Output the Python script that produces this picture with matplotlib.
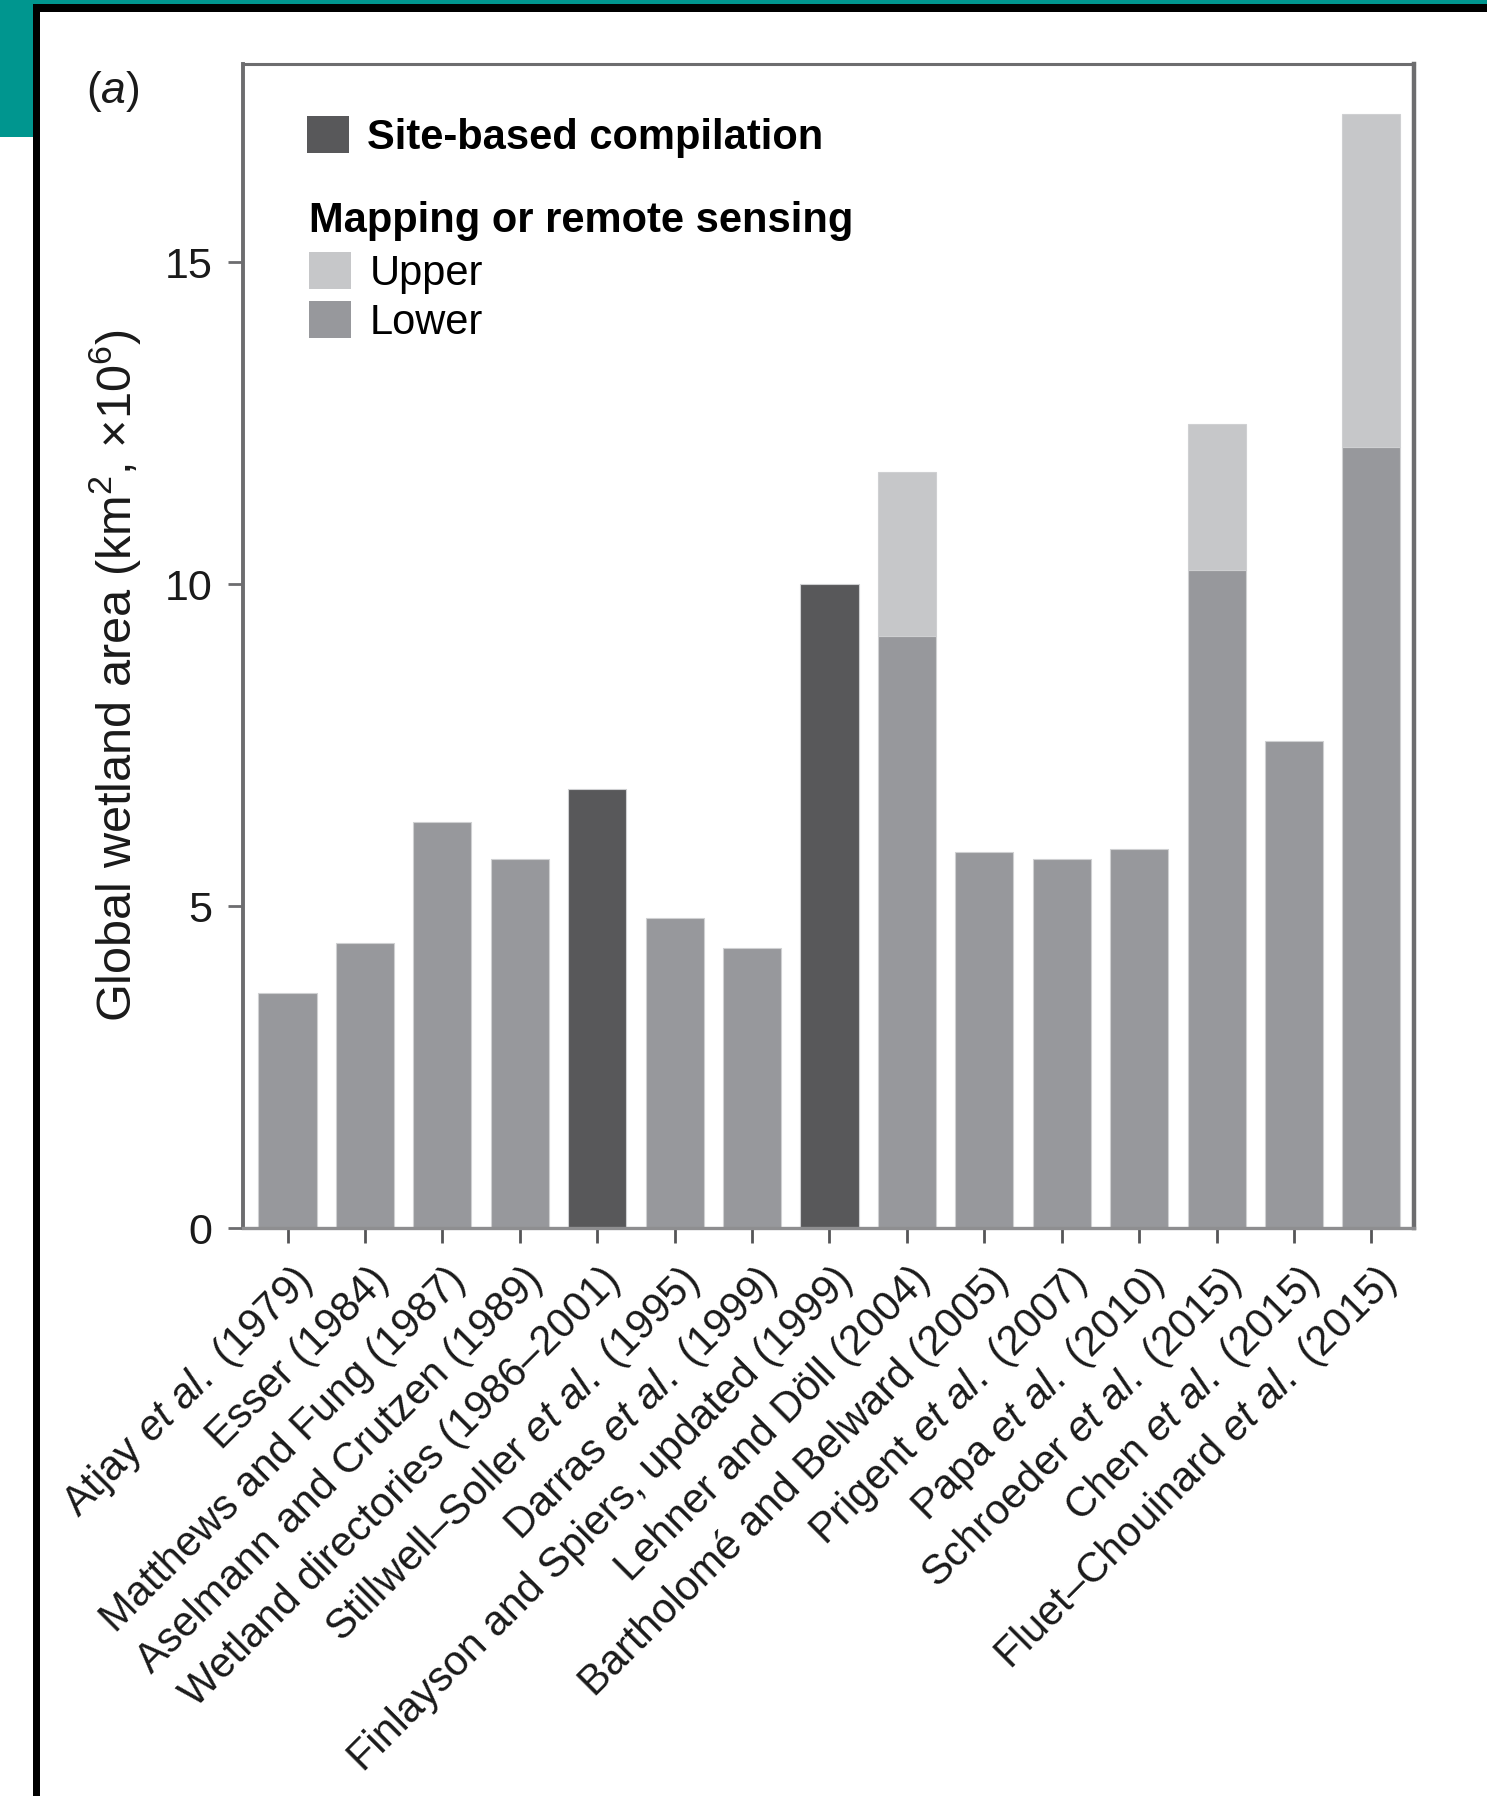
import matplotlib
matplotlib.use("Agg")
import matplotlib.pyplot as plt
from matplotlib.patches import Rectangle, Patch
from matplotlib.transforms import ScaledTranslation
import numpy as np

plt.rcParams['font.family'] = ['Liberation Sans', 'DejaVu Sans']
plt.rcParams['mathtext.fontset'] = 'custom'
plt.rcParams['mathtext.rm'] = 'Liberation Sans'
plt.rcParams['mathtext.it'] = 'Liberation Sans:italic'
plt.rcParams['mathtext.bf'] = 'Liberation Sans:bold'

# ---- data -------------------------------------------------------------
studies = [
    r"Atjay $\mathit{et\ al.}$ (1979)",
    "Esser (1984)",
    "Matthews and Fung (1987)",
    "Aselmann and Crutzen (1989)",
    "Wetland directories (1986–2001)",
    r"Stillwell–Soller $\mathit{et\ al.}$ (1995)",
    r"Darras $\mathit{et\ al.}$ (1999)",
    "Finlayson and Spiers, updated (1999)",
    "Lehner and Döll (2004)",
    "Bartholomé and Belward (2005)",
    r"Prigent $\mathit{et\ al.}$ (2007)",
    r"Papa $\mathit{et\ al.}$ (2010)",
    r"Schroeder $\mathit{et\ al.}$ (2015)",
    r"Chen $\mathit{et\ al.}$ (2015)",
    r"Fluet–Chouinard $\mathit{et\ al.}$ (2015)",
]
method = ["map", "map", "map", "map", "site", "map", "map", "site",
          "map", "map", "map", "map", "map", "map", "map"]
# lower (or single) estimate, km2 x 10^6
estimate = [3.65, 4.43, 6.30, 5.73, 6.82, 4.81, 4.35, 10.00,
            9.19, 5.84, 5.73, 5.89, 10.22, 7.57, 12.13]
# upper estimate where a range is reported
upper_estimate = [None, None, None, None, None, None, None, None,
                  11.74, None, None, None, 12.49, None, 17.30]
y_ticks = [0, 5, 10, 15]

# ---- style ------------------------------------------------------------
C_SITE = "#58585a"
C_LOWER = "#97989c"
C_UPPER = "#c6c7c9"
C_EDGE = "#cfd0d2"
C_SPINE = "#6d6d6f"
TEAL = "#00968f"
FS = 30

W, H = 1487, 1796
fig = plt.figure(figsize=(W / 100, H / 100), dpi=100)
fig.patch.set_facecolor("white")


def fx(px):
    return px / W


def fy(py):
    return 1 - py / H


# page decoration: teal corner and black frame lines
fig.add_artist(Rectangle((0, fy(5)), 1, 5 / H, transform=fig.transFigure,
                         facecolor=TEAL, edgecolor="none", zorder=0))
fig.add_artist(Rectangle((0, fy(137)), fx(36), 137 / H, transform=fig.transFigure,
                         facecolor=TEAL, edgecolor="none", zorder=0))
fig.add_artist(Rectangle((fx(33), fy(12)), 1 - fx(33), 8 / H, transform=fig.transFigure,
                         facecolor="black", edgecolor="none", zorder=1))
fig.add_artist(Rectangle((fx(33), 0), fx(7), fy(4), transform=fig.transFigure,
                         facecolor="black", edgecolor="none", zorder=1))

ax = fig.add_axes([fx(243), fy(1228), fx(1414) - fx(243), fy(64) - fy(1228)])

x = np.arange(len(studies))
colors = [C_SITE if m == "site" else C_LOWER for m in method]
ax.bar(x, estimate, width=0.75, color=colors, edgecolor=C_EDGE, linewidth=0.8, zorder=2)

up_x = [i for i, u in enumerate(upper_estimate) if u is not None]
up_base = [estimate[i] for i in up_x]
up_h = [upper_estimate[i] - estimate[i] for i in up_x]
ax.bar(up_x, up_h, bottom=up_base, width=0.75, color=C_UPPER,
       edgecolor=C_EDGE, linewidth=0.8, zorder=2)

ax.set_xlim(-0.575, 14.55)
ax.set_ylim(0, 18.08)

for side in ["top", "right", "left"]:
    ax.spines[side].set_color(C_SPINE)
ax.spines["left"].set_linewidth(2.8)
ax.spines["top"].set_linewidth(2.2)
ax.spines["right"].set_linewidth(3.2)
ax.spines["bottom"].set_color("#8e8e90")
ax.spines["bottom"].set_linewidth(2.4)
ax.spines["bottom"].set_zorder(3)

ax.set_yticks(y_ticks)
ax.set_yticklabels([str(v) for v in y_ticks])
ax.tick_params(axis="y", direction="out", length=11, width=2, color=C_SPINE,
               pad=11, labelsize=31, labelcolor="#1a1a1a")
ax.set_xticks(x)
ax.set_xticklabels(studies)
ax.tick_params(axis="x", direction="out", length=11, width=2, color="#555557",
               pad=12, labelsize=FS, labelcolor="#1a1a1a")
shift = ScaledTranslation(0.03, 0, fig.dpi_scale_trans)
for lab in ax.get_xticklabels():
    lab.set_rotation(45)
    lab.set_ha("right")
    lab.set_va("top")
    lab.set_rotation_mode("anchor")
    lab.set_transform(lab.get_transform() + shift)

fig.text(fx(115), fy(675), "Global wetland area (km$^2$, ×10$^6$)", rotation=90,
         ha="center", va="center", fontsize=35, color="#1a1a1a")
fig.text(fx(113), fy(91), r"($\mathit{a}$)", ha="center", va="center",
         fontsize=32, color="#1a1a1a")

# legend: site-based entry, then the mapping group with its own heading
h_site = Patch(facecolor=C_SITE, edgecolor="none")
h_up = Patch(facecolor=C_UPPER, edgecolor="none")
h_low = Patch(facecolor=C_LOWER, edgecolor="none")

leg1 = ax.legend([h_site], ["Site-based compilation"], loc="upper left",
                 bbox_to_anchor=(fx(307), fy(116)), bbox_transform=fig.transFigure,
                 frameon=False, prop={"weight": "bold", "size": FS},
                 handlelength=1.0, handleheight=1.0, handletextpad=0.45,
                 borderpad=0, borderaxespad=0)
ax.add_artist(leg1)

leg2 = ax.legend([h_up, h_low], ["Upper", "Lower"], loc="upper left",
                 title="Mapping or remote sensing",
                 title_fontproperties={"weight": "bold", "size": FS},
                 alignment="left",
                 bbox_to_anchor=(fx(309), fy(201)), bbox_transform=fig.transFigure,
                 frameon=False, prop={"size": FS},
                 handlelength=1.0, handleheight=1.0, handletextpad=0.45,
                 labelspacing=0.16, borderpad=0, borderaxespad=0)
leg2._legend_box.sep = 8

fig.savefig("out.png", dpi=100, facecolor="white")
